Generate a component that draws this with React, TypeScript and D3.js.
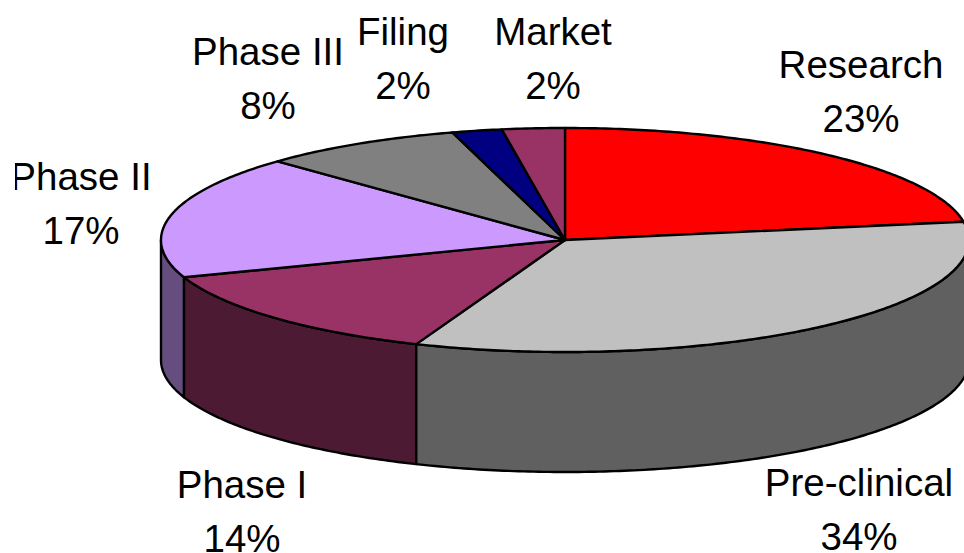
import React from "react";
import * as d3 from "d3";

const categories = ["Research", "Pre-clinical", "Phase I", "Phase II", "Phase III", "Filing", "Market"];
const shares = [22.4, 33.6, 13.6, 17.8, 8.1, 2.0, 2.5];
const percentLabels = ["23%", "34%", "14%", "17%", "8%", "2%", "2%"];

const topColors = ["#ff0000", "#c0c0c0", "#993366", "#cc99ff", "#808080", "#000080", "#993366"];
const sideColors = ["#800000", "#606060", "#4d1a33", "#664d80", "#404040", "#000040", "#4d1a33"];
const labelSpots: [number, number][] = [
  [861, 78],
  [859, 496],
  [242, 498],
  [81, 190],
  [268, 65],
  [403, 45],
  [553, 45],
];

const width = 964;
const height = 553;
const cx = 565;
const cy = 240;
const rx = 404;
const ry = 112;
const depth = 120;
const lineGap = 53.5;

const ellipsePoint = (a: number, dy = 0): [number, number] => [
  cx + rx * Math.sin(a),
  cy + dy - ry * Math.cos(a),
];

const sample = (a0: number, a1: number) => {
  const n = Math.max(2, Math.ceil(Math.abs(a1 - a0) * 80));
  return d3.range(n + 1).map((i) => a0 + ((a1 - a0) * i) / n);
};

const line = d3.line();

export default function App() {
  const slices = d3
    .pie<number>()
    .sort(null)
    .value((d) => d)(shares);

  const front = slices
    .map((s) => ({
      index: s.index,
      a0: Math.max(s.startAngle, Math.PI / 2),
      a1: Math.min(s.endAngle, (3 * Math.PI) / 2),
    }))
    .filter((s) => s.a1 > s.a0)
    .reverse();

  return (
    <svg
      width={width}
      height={height}
      style={{ position: "absolute", left: 0, top: 0, background: "#fff" }}
      fontFamily="'Liberation Sans', Arial, sans-serif"
    >
      <defs>
        <clipPath id="label-clip">
          <rect x={15} y={0} width={width - 15} height={height} />
        </clipPath>
      </defs>
      <g stroke="#000" strokeWidth={2.4} strokeLinejoin="round">
        {front.map((s) => {
          const pts = [
            ...sample(s.a0, s.a1).map((a) => ellipsePoint(a)),
            ...sample(s.a1, s.a0).map((a) => ellipsePoint(a, depth)),
          ];
          return <path key={s.index} d={line(pts) + "Z"} fill={sideColors[s.index]} />;
        })}
        {slices.map((s) => {
          const pts: [number, number][] = [
            [cx, cy],
            ...sample(s.startAngle, s.endAngle).map((a) => ellipsePoint(a)),
          ];
          return <path key={s.index} d={line(pts) + "Z"} fill={topColors[s.index]} />;
        })}
      </g>
      <g clipPath="url(#label-clip)" fontSize={38.5} textAnchor="middle" fill="#000">
        {categories.map((c, i) => (
          <text key={c} x={labelSpots[i][0]} y={labelSpots[i][1]}>
            <tspan x={labelSpots[i][0]}>{c}</tspan>
            <tspan x={labelSpots[i][0]} dy={lineGap}>
              {percentLabels[i]}
            </tspan>
          </text>
        ))}
      </g>
    </svg>
  );
}
